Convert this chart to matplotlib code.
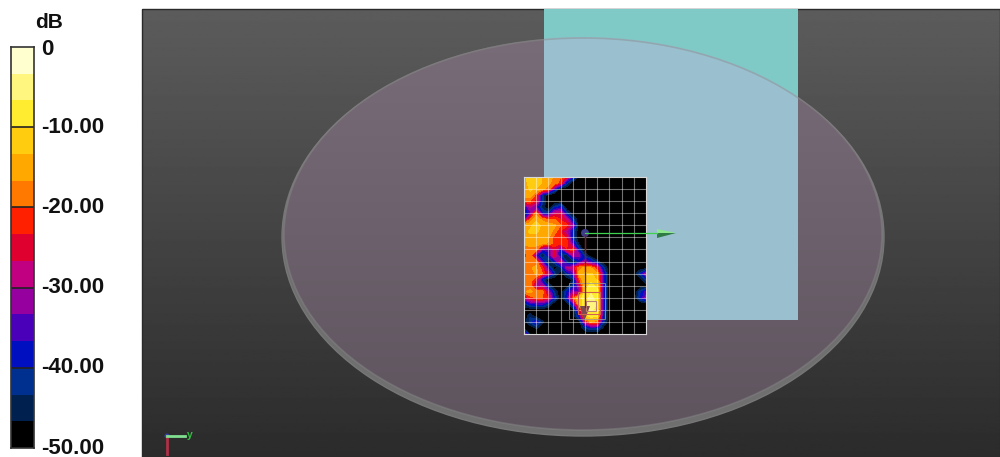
import numpy as np
import matplotlib
matplotlib.use('Agg')
import matplotlib.pyplot as plt
from matplotlib.colors import ListedColormap, BoundaryNorm, LinearSegmentedColormap
from matplotlib.patches import Ellipse, Rectangle, Polygon, Circle

# colour scale
db_edges = [-50, -46.67, -43.33, -40, -36.67, -33.33, -30, -26.67, -23.33, -20, -16.67, -13.33, -10, -6.67, -3.33, 0]
db_colors = ['#000000', '#00204f', '#00308f', '#0010c0', '#4a00b8', '#96009e', '#c00080', '#e00030',
             '#ff2000', '#ff7800', '#ffa800', '#ffcc10', '#ffec30', '#fff680', '#ffffd0']
tick_values = [0, -10, -20, -30, -40, -50]
tick_labels = ['0', '-10.00', '-20.00', '-30.00', '-40.00', '-50.00']

# field, rows top to bottom, every half grid cell
B = -50
field = np.array([
    [-14, -12, -10, -14, -16, -17, -20, -25, -38, B, B, B, B, B, B, B, B, B, B, B, B],
    [-15, -12, -10, -14, -16, -18, -22, -42, B, B, B, B, B, B, B, B, B, B, B, B, B],
    [-15, -13, -14, -16, -18, -38, B, B, B, B, B, B, B, B, B, B, B, B, B, B, B],
    [-16, -14, -22, -42, B, B, B, B, B, B, B, B, B, B, B, B, B, B, B, B, B],
    [-18, -20, -25, -42, B, B, B, B, B, B, B, B, B, B, B, B, B, B, B, B, B],
    [-38, -30, -35, -45, B, -42, -38, B, B, B, B, B, B, B, B, B, B, B, B, B, B],
    [-42, -36, -18, -40, -42, -28, -26, -42, B, B, B, B, B, B, B, B, B, B, B, B, B],
    [-36, -20, -14, -18, -20, -20, -24, -28, -42, B, B, B, B, B, B, B, B, B, B, B, B],
    [-16, -14, -12, -14, -15, -16, -20, -22, -32, B, B, B, B, B, B, B, B, B, B, B, B],
    [-14, -13, -13, -14, -15, -18, -24, -30, -40, B, B, B, B, B, B, B, B, B, B, B, B],
    [-15, -14, -14, -15, -16, -22, -22, -24, -42, B, B, B, B, B, B, B, B, B, B, B, B],
    [-16, -15, -15, -16, -17, -21, -22, -21, -36, -48, B, B, B, B, B, B, B, B, B, B, B],
    [-20, -18, -19, -34, -36, -26, -38, -24, -22, -40, B, B, B, B, B, B, B, B, B, B, B],
    [-22, -18, -36, -48, -38, -24, -42, -48, -30, -32, -44, B, B, B, B, B, B, B, B, B, B],
    [-20, -17, -18, -36, -48, -40, -26, -44, -48, -40, -32, -38, -46, B, B, B, B, B, B, B, B],
    [-20, -17, -16, -22, -38, B, -44, -30, -28, -18, -16, -17, -24, -42, B, B, B, B, B, B, B],
    [-17, -20, -16, -20, -28, -42, B, -42, -36, -16, -13, -13, -16, -36, B, B, B, B, B, -42, -30],
    [-17, -18, -24, -42, B, B, B, B, -46, -22, -12, -11, -14, -36, B, B, B, B, B, B, -42],
    [-17, -18, -32, -30, -44, B, B, B, -42, -30, -12, -9, -11, -36, B, B, B, B, B, B, B],
    [-17, -16, -18, -18, -30, -44, B, -40, -32, -34, -10, -7, -9, -36, B, B, B, B, B, -42, -35],
    [-30, -22, -20, -20, -24, -40, B, -38, -22, -12, -8, -6, -8, -36, B, B, B, B, B, -40, -32],
    [-44, -38, -36, -36, -42, B, B, B, -38, -14, -7, -5, -7, -38, B, B, B, B, B, B, B],
    [B, B, B, B, B, B, B, B, B, -30, -8, -6, -8, -38, B, B, B, B, B, B, B],
    [B, -44, B, B, B, B, B, B, B, -40, -12, -8, -10, -40, B, B, B, B, B, B, B],
    [B, -42, -36, -46, B, B, B, B, B, B, -28, -16, -20, -42, B, B, B, B, B, B, B],
    [-48, B, -46, B, B, B, B, B, B, B, -44, -40, -40, -48, B, B, B, B, B, B, B],
    [-28, -48, B, B, B, B, B, B, B, B, B, B, B, B, B, B, B, B, B, B, B],
])

W, H = 1000, 457
cmap = ListedColormap(db_colors)
norm = BoundaryNorm(db_edges, cmap.N)


def pixel_axes(fig, x0, y0, x1, y1, **kw):
    return fig.add_axes([x0 / W, 1 - y1 / H, (x1 - x0) / W, (y1 - y0) / H], **kw)


fig = plt.figure(figsize=(10, 4.57), dpi=100, facecolor='white')
plt.rcParams['font.family'] = ['Liberation Sans', 'DejaVu Sans']

# colour bar
cax = pixel_axes(fig, 11, 47, 34, 448)
cax.pcolormesh([0, 1], db_edges, np.array(db_edges[:-1]).reshape(-1, 1) + 0.1, cmap=cmap, norm=norm)
cax.set_xticks([])
cax.set_yticks([])
for v in tick_values[1:-1]:
    cax.axhline(v, color='#222222', lw=1.2)
for v, lab in zip(tick_values, tick_labels):
    dy = -1.5 if v == 0 else 0
    cax.annotate(lab, (1, v), xycoords=('axes fraction', 'data'), xytext=(5, dy), textcoords='offset points',
                 fontsize=16, fontweight='bold', color='#111111', va='center', annotation_clip=False)
for s in cax.spines.values():
    s.set_color('#333333')
    s.set_linewidth(1.2)
fig.text(49 / W, 1 - 22 / H, 'dB', fontsize=15, fontweight='bold', color='#111111', ha='center', va='center')

# 3D scene backdrop
scene = pixel_axes(fig, 0, 0, W, H)
scene.set_xlim(0, W)
scene.set_ylim(H, 0)
scene.axis('off')
scene.patch.set_alpha(0)
shade = np.linspace(0.36, 0.17, 256).reshape(-1, 1)
scene.imshow(shade, extent=(142, 1000, 457, 9), cmap='gray', vmin=0, vmax=1, aspect='auto', zorder=0)
scene.add_patch(Rectangle((142, 9), 858, 448, fill=False, ec='#2a2a2a', lw=1, zorder=1))
scene.add_patch(Ellipse((583, 237), 602, 398, fc='#6f6f6f', ec='#777777', lw=1, zorder=2))
disc = scene.imshow(np.linspace(0, 1, 256).reshape(-1, 1), extent=(281, 884, 434, 36), aspect='auto', zorder=3,
                    cmap=LinearSegmentedColormap.from_list('d', ['#786c78', '#5e545e']))
disc.set_clip_path(Ellipse((583, 234), 598, 392, transform=scene.transData))
scene.add_patch(Rectangle((544, 9), 254, 311, fc='#7fc9c6', ec='none', zorder=4))
panel = scene.imshow([[0]], extent=(544, 798, 320, 9), cmap=ListedColormap(['#9ac0cf']), aspect='auto', zorder=5)
panel.set_clip_path(Ellipse((583, 235), 600, 396, transform=scene.transData))
scene.add_patch(Ellipse((583, 234), 598, 392, fill=False, ec='#888888', lw=1.2, alpha=0.45, zorder=6))
scene.set_xlim(0, W)
scene.set_ylim(H, 0)

# measured field
heat = pixel_axes(fig, 524, 177, 646, 334)
heat.set_facecolor('black')
heat.contourf(np.arange(field.shape[1]) / 2, np.arange(field.shape[0]) / 2, field, levels=db_edges, cmap=cmap, norm=norm)
heat.set_xlim(0, 10)
heat.set_ylim(13, 0)
heat.set_xticks(np.arange(1, 10))
heat.set_yticks(np.arange(1, 13))
heat.tick_params(length=0, labelbottom=False, labelleft=False)
heat.grid(color='white', alpha=0.45, lw=0.8)
for s in heat.spines.values():
    s.set_color('#d8d8d8')
    s.set_linewidth(0.8)

# probe and axes glyphs on top
over = pixel_axes(fig, 0, 0, W, H)
over.set_xlim(0, W)
over.set_ylim(H, 0)
over.axis('off')
over.patch.set_alpha(0)
over.plot([585, 585], [233, 307], color='#7a1c2c', lw=1)
over.plot([585, 657], [233, 233], color='#3fd24f', lw=0.9)
over.add_patch(Polygon([(657, 229), (676, 233), (657, 233)], fc='#8ee88e', ec='none'))
over.add_patch(Polygon([(657, 233), (676, 233), (657, 238)], fc='#2f7a45', ec='none'))
over.add_patch(Circle((585, 233), 4, fc='#3c3c8c', ec='none'))
over.add_patch(Polygon([(580, 306), (590, 306), (584, 322)], fc='#7a4a50', ec='none'))
over.add_patch(Rectangle((569, 283), 36, 36, fill=False, ec='#a09898', lw=0.7, alpha=0.8))
over.add_patch(Rectangle((578, 292), 22, 22, fill=False, ec='#d06050', lw=0.8))
over.add_patch(Rectangle((586, 301), 10, 10, fill=False, ec='#c08070', lw=0.8))
over.plot([167, 167], [436, 454], color='#b03048', lw=2)
over.plot([167, 185], [436, 436], color='#80e090', lw=2)
over.add_patch(Circle((167, 436), 2.5, fc='#3040b0', ec='none'))
over.text(190, 435, 'y', color='#30c040', fontsize=7.5, fontweight='bold', ha='center', va='center')

fig.savefig('out.png', dpi=100)
